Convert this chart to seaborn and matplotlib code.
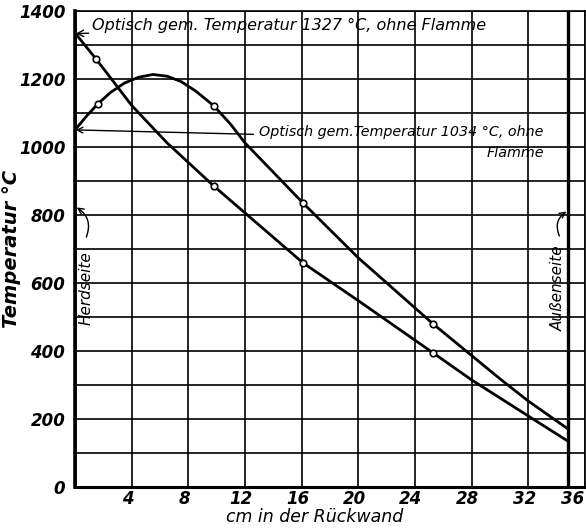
import numpy as np
import pandas as pd
import seaborn as sns
import matplotlib.pyplot as plt
import matplotlib.transforms as mtransforms

# Werte (cm, Grad C)
x_flamme_hoch = [0, 1.5, 4, 6.5, 9.8, 12, 16.1, 20, 25.3, 28, 32, 34.8]
t_flamme_hoch = [1335, 1258, 1122, 1012, 885, 806, 659, 548, 394, 315, 209, 135]
x_mess_hoch = [1.5, 9.8, 16.1, 25.3]
t_mess_hoch = [1258, 885, 659, 394]

x_flamme_tief = [0, 0.8, 1.6, 2.5, 3.5, 4.5, 5.5, 6.5, 7.5, 8.5, 9.8, 11, 12, 16.1, 20, 25.3, 30.1, 32, 34.8]
t_flamme_tief = [1050, 1090, 1126, 1160, 1188, 1205, 1213, 1208, 1192, 1165, 1121, 1066, 1012, 835, 674, 479, 315, 253, 171]
x_mess_tief = [1.6, 9.8, 16.1, 25.3]
t_mess_tief = [1126, 1121, 835, 479]

x_ticks = [4, 8, 12, 16, 20, 24, 28, 32, 36]
y_ticks = [0, 200, 400, 600, 800, 1000, 1200, 1400]

sns.set_style("white")
plt.rcParams['font.family'] = ['DejaVu Sans']
plt.rcParams['text.color'] = 'black'
plt.rcParams['axes.labelcolor'] = 'black'
plt.rcParams['xtick.color'] = 'black'
plt.rcParams['ytick.color'] = 'black'

fig = plt.figure(figsize=(5.86, 5.29), dpi=100)
ax = fig.add_axes([0.128, 0.0794, 0.870, 0.900])

# Gitter
for gx in range(0, 37, 4):
    ax.axvline(gx, color='black', lw=1.2, zorder=1)
for gy in range(0, 1401, 100):
    ax.axhline(gy, color='black', lw=1.2, zorder=1)
# Wandgrenzen
ax.axvline(0, color='black', lw=2.6, zorder=2)
ax.axvline(34.8, color='black', lw=2.4, zorder=2)

df_a = pd.DataFrame({'x': x_flamme_hoch, 't': t_flamme_hoch})
df_b = pd.DataFrame({'x': x_flamme_tief, 't': t_flamme_tief})
sns.lineplot(data=df_a, x='x', y='t', color='black', lw=2.0, estimator=None, ax=ax, zorder=3)
sns.lineplot(data=df_b, x='x', y='t', color='black', lw=2.0, estimator=None, ax=ax, zorder=3)
sns.scatterplot(x=x_mess_hoch, y=t_mess_hoch, s=22, color='white', edgecolor='black',
                linewidth=1.2, ax=ax, zorder=4)
sns.scatterplot(x=x_mess_tief, y=t_mess_tief, s=22, color='white', edgecolor='black',
                linewidth=1.2, ax=ax, zorder=4)

ax.set_xlim(0, 36)
ax.set_ylim(0, 1400)
ax.set_xticks(x_ticks)
ax.set_xticklabels([str(v) for v in x_ticks], fontsize=12, fontstyle='italic', fontweight='bold')
ax.set_yticks(y_ticks)
ax.set_yticklabels([str(v) for v in y_ticks], fontsize=12, fontstyle='italic', fontweight='bold')
ax.tick_params(axis='y', length=0, pad=7)
ax.tick_params(axis='x', length=0, pad=2)
# Beschriftung der x-Achse leicht nach links versetzt wie im Original
for lbl in ax.get_xticklabels():
    dx = -12 if lbl.get_text() == '36' else -4
    lbl.set_transform(lbl.get_transform() + mtransforms.ScaledTranslation(dx / 100, 0, fig.dpi_scale_trans))

ax.set_xlabel('cm in der Rückwand', fontsize=12.5, fontstyle='italic')
ax.xaxis.set_label_coords(0.47, -0.044)
ax.set_ylabel('Temperatur °C', fontsize=14, fontstyle='italic', fontweight='bold')
ax.yaxis.set_label_coords(-0.105, 0.5)

for side in ['top', 'right']:
    ax.spines[side].set_linewidth(1.2)
ax.spines['left'].set_linewidth(2.6)
ax.spines['bottom'].set_linewidth(2.2)
for sp in ax.spines.values():
    sp.set_color('black')

# Beschriftungen
ax.annotate('Optisch gem. Temperatur 1327 °C, ohne Flamme', xy=(0.05, 1333), xytext=(1.2, 1357),
            fontsize=11.5, fontstyle='italic', va='center', ha='left',
            arrowprops=dict(arrowstyle='->', color='black', lw=1.0, shrinkA=0, shrinkB=0))
ax.annotate('', xy=(0.05, 1050), xytext=(12.6, 1037),
            arrowprops=dict(arrowstyle='->', color='black', lw=1.0, shrinkA=0, shrinkB=0))
ax.text(33.1, 1043, 'Optisch gem.Temperatur 1034 °C, ohne', fontsize=10.3, fontstyle='italic',
        ha='right', va='center')
ax.text(33.1, 982, 'Flamme', fontsize=10.3, fontstyle='italic', ha='right', va='center')

ax.text(0.75, 585, 'Herdseite', rotation=90, fontsize=11, fontstyle='italic', ha='center', va='center')
ax.annotate('', xy=(0.12, 822), xytext=(0.8, 735),
            arrowprops=dict(arrowstyle='->', color='black', lw=1.0, shrinkA=0, shrinkB=0,
                            connectionstyle='arc3,rad=0.4'))
ax.text(34.15, 585, 'Außenseite', rotation=90, fontsize=11, fontstyle='italic', ha='center', va='center')
ax.annotate('', xy=(34.7, 810), xytext=(34.2, 738),
            arrowprops=dict(arrowstyle='->', color='black', lw=1.0, shrinkA=0, shrinkB=0,
                            connectionstyle='arc3,rad=-0.4'))

fig.savefig('out.png', dpi=100)
